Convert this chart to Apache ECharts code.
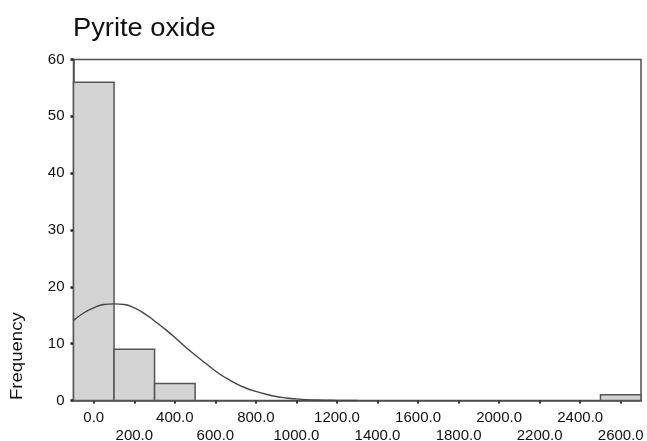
<!DOCTYPE html>
<html>
<head>
<meta charset="utf-8">
<script src="https://cdn.jsdelivr.net/npm/echarts@6/dist/echarts.min.js"></script>
<style>
  html, body { margin: 0; padding: 0; background: #fff; }
  #chart { width: 647px; height: 441px; }
</style>
</head>
<body>
<div id="chart"></div>
<script>
// Histogram bins (centre of each 200-wide bin) and their frequencies
const binCenters = [0, 200, 400, 600, 800, 1000, 1200, 1400, 1600, 1800, 2000, 2200, 2400, 2600];
const counts = [56, 9, 3, 0, 0, 0, 0, 0, 0, 0, 0, 0, 0, 1];

// Fitted normal curve, sampled along the x range
const curveX = [-100, -50, 0, 50, 100, 150, 200, 250, 300, 350, 400, 450, 500, 550, 600,
                650, 700, 750, 800, 850, 900, 950, 1000, 1050, 1100, 1150, 1200, 1300];
const curveY = [14.1, 15.4, 16.3, 16.9, 17.0, 16.9, 16.3, 15.3, 14.0, 12.6, 11.1, 9.5, 8.0, 6.6, 5.2,
                4.0, 3.0, 2.2, 1.6, 1.1, 0.7, 0.45, 0.28, 0.16, 0.09, 0.05, 0.03, 0.01];

// Axis tick positions; labels alternate between two rows
const xTicks = [0, 200, 400, 600, 800, 1000, 1200, 1400, 1600, 1800, 2000, 2200, 2400, 2600];
const xLabelsUpper = [0, 400, 800, 1200, 1600, 2000, 2400];
const xLabelsLower = [200, 600, 1000, 1400, 1800, 2200, 2600];
const yMin = 0, yMax = 60, yStep = 10;

const axisColor = '#505050';
const labelFont = 'Liberation Sans, Arial, sans-serif';

const chart = echarts.init(document.getElementById('chart'), null, { renderer: 'canvas' });

function xLabel(values, margin) {
  return {
    customValues: values,
    showMaxLabel: true,
    showMinLabel: true,
    hideOverlap: false,
    margin: margin,
    color: '#111',
    fontFamily: labelFont,
    fontSize: 15,
    formatter: function (v) { return Number(v).toFixed(1); }
  };
}

chart.setOption({
  animation: false,
  backgroundColor: '#ffffff',
  grid: {
    left: 73.5, right: 6, top: 59.5, bottom: 40.5,
    containLabel: false, outerBoundsMode: 'none',
    show: true, borderColor: axisColor, borderWidth: 1.5, backgroundColor: 'transparent'
  },
  graphic: [
    {
      type: 'text', left: 73, top: 16, scaleX: 1.05,
      style: { text: 'Pyrite oxide', font: '26px ' + labelFont, fill: '#111' }
    },
    {
      type: 'text', x: 26, y: 400, rotation: Math.PI / 2, scaleX: 1.16,
      style: { text: 'Frequency', font: '16px ' + labelFont, fill: '#111', textVerticalAlign: 'bottom' }
    }
  ],
  xAxis: [
    {
      type: 'value', min: -100, max: 2700, position: 'bottom',
      splitLine: { show: false },
      axisLine: { show: true, onZero: false, lineStyle: { color: axisColor, width: 1.5 } },
      axisTick: { show: true, customValues: xTicks, length: 3, lineStyle: { color: '#333', width: 2 } },
      axisLabel: xLabel(xLabelsUpper, 10)
    },
    {
      type: 'value', min: -100, max: 2700, position: 'bottom', offset: 0,
      splitLine: { show: false },
      axisLine: { show: false, onZero: false },
      axisTick: { show: false },
      axisLabel: xLabel(xLabelsLower, 28)
    }
  ],
  yAxis: {
    type: 'value', min: yMin, max: yMax, interval: yStep,
    splitLine: { show: false },
    axisLine: { show: true, onZero: false, lineStyle: { color: axisColor, width: 1.5 } },
    axisTick: { show: true, length: 3, lineStyle: { color: '#222', width: 2.5 } },
    axisLabel: { margin: 9, color: '#111', fontFamily: labelFont, fontSize: 15 }
  },
  series: [
    {
      type: 'custom',
      data: binCenters.map((c, i) => [c, counts[i]]),
      renderItem: function (params, api) {
        const c = api.value(0), n = api.value(1);
        if (!n) return null;
        const p0 = api.coord([c - 100, n]);
        const p1 = api.coord([c + 100, 0]);
        return {
          type: 'rect',
          shape: { x: p0[0], y: p0[1], width: p1[0] - p0[0], height: p1[1] - p0[1] },
          style: { fill: '#d4d4d4', stroke: '#555', lineWidth: 1.5 }
        };
      },
      z: 2
    },
    {
      type: 'line',
      data: curveX.map((x, i) => [x, curveY[i]]),
      smooth: true,
      showSymbol: false,
      lineStyle: { color: '#444', width: 1.4 },
      z: 3
    }
  ]
});
</script>
</body>
</html>
